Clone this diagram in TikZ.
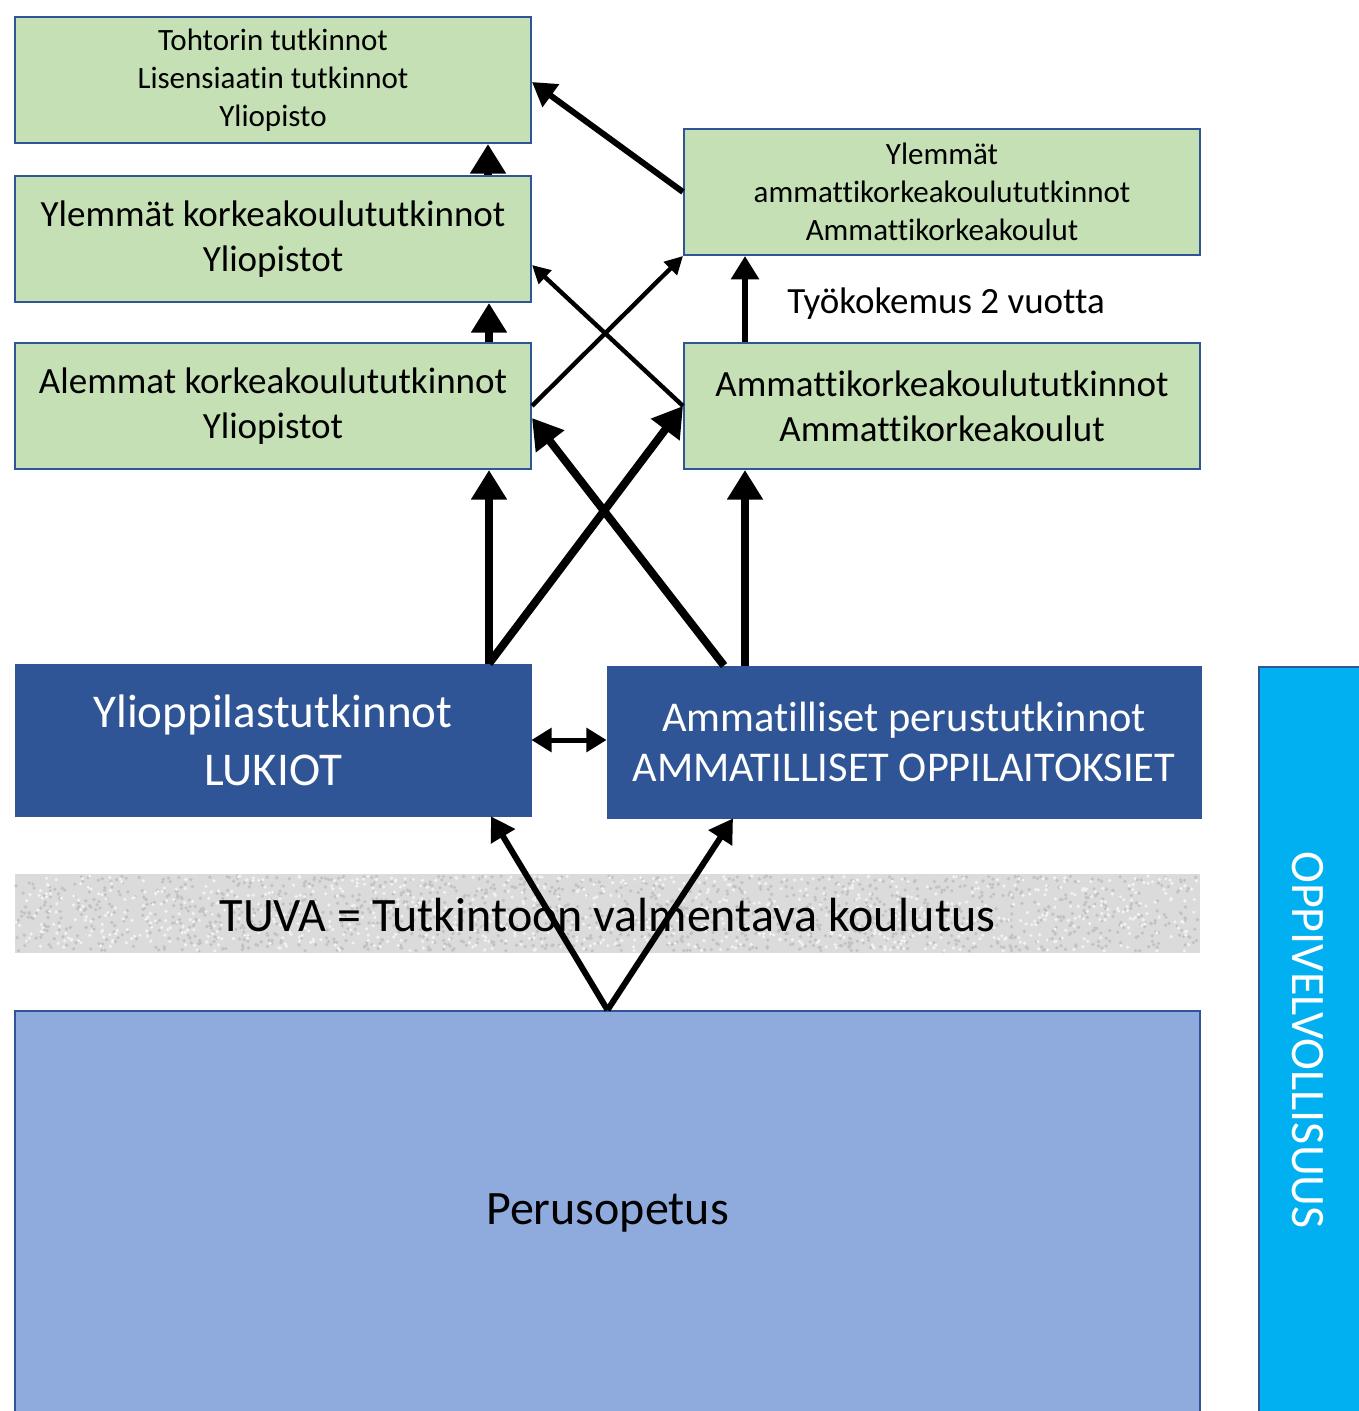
\documentclass[tikz,border=0pt]{standalone}
\usepackage{fontspec}
\setmainfont{Carlito}[Ligatures=NoCommon]
\usetikzlibrary{arrows.meta}

\definecolor{boxgreen}{HTML}{C5E0B4}
\definecolor{boxline}{HTML}{2F5597}
\definecolor{lightblue}{HTML}{8FAADC}
\definecolor{cyanbar}{HTML}{00B0F0}

\tikzset{
	degree/.style={draw=boxline, line width=1pt, fill=boxgreen, minimum width=258pt, minimum height=63pt, align=center, inner sep=0pt},
	smalltext/.style={font=\fontsize{15.5}{19}\selectfont},
	midtext/.style={font=\fontsize{18.5}{22.5}\selectfont},
	bigtext/.style={font=\fontsize{24}{29}\selectfont},
	school/.style={draw=boxline, fill=boxline, text=white, minimum height=76pt, align=center, inner sep=0pt},
	route/.style={->, line width=4pt},
	thinroute/.style={-{Triangle[length=9pt,width=9pt]}, line width=2.2pt},
}

\begin{document}
\begin{tikzpicture}[x=0.5pt,y=-0.5pt,>=Triangle]
		\useasboundingbox (0,0) rectangle (1358,1411);

		% korkeakoulut
		\node[degree,smalltext] (toht) at (273,80) {Tohtorin tutkinnot\\Lisensiaatin tutkinnot\\Yliopisto};
		\node[degree,midtext] (ylem) at (273,239) {Ylemmät korkeakoulututkinnot\\Yliopistot};
		\node[degree,midtext] (alem) at (273,406) {Alemmat korkeakoulututkinnot\\Yliopistot};
		\node[degree,smalltext] (ylamk) at (942,192) {Ylemmät\\ammattikorkeakoulututkinnot\\Ammattikorkeakoulut};
		\node[degree,midtext] (amk) at (942,406) {Ammattikorkeakoulututkinnot\\Ammattikorkeakoulut};
		\node[font=\fontsize{18.5}{22}\selectfont] (tyo) at (946,304) {Työkokemus 2 vuotta};

		% toinen aste
		\node[school,minimum width=258pt,font=\fontsize{23.5}{29}\selectfont] (yo) at (273,740) {Ylioppilastutkinnot\\LUKIOT};
		\node[school,minimum width=297pt,font=\fontsize{21.2}{25}\selectfont] (ammat) at (904,742) {Ammatilliset perustutkinnot\\AMMATILLISET OPPILAITOKSIET};

		% TUVA
		\fill[black!14] (15,874) rectangle (1200,953);
		\pgfmathsetseed{7}
		\foreach \i in {1,...,1400}
			\fill[black!24] ({16+1182*rnd},{876+75*rnd}) circle (0.9pt);
		\foreach \i in {1,...,900}
			\fill[black!5] ({16+1182*rnd},{876+75*rnd}) circle (0.9pt);
		\node[bigtext] (tuva) at (607.5,915) {TUVA = Tutkintoon valmentava koulutus};

		% perusopetus ja oppivelvollisuus
		\node[draw=boxline, line width=1pt, fill=lightblue, minimum width=592.5pt, minimum height=201pt, inner sep=0pt] (perus) at (607.5,1212) {};
		\node[bigtext] at (607.5,1213) {Perusopetus};
		\node[draw=boxline, line width=1pt, fill=cyanbar, minimum width=51pt, minimum height=373pt, inner sep=0pt] (oppi) at (1310,1039.5) {};
		\node[bigtext, text=white, rotate=-90] at (1308,1040) {OPPIVELVOLLISUUS};

		% nuolet
		\draw[route] ([xshift=108pt]alem.north) -- ([xshift=108pt]ylem.south);
		\draw[route] ([xshift=107.5pt]ylem.north) -- ([xshift=107.5pt]toht.south);
		\draw[->, line width=3pt] (ylamk.west) -- ([yshift=-1pt]toht.east);
		\draw[thinroute] (alem.east) -- (ylamk.south west);
		\draw[thinroute] (amk.west) -- ([yshift=-13pt]ylem.east);
		\draw[->, line width=3pt] ([xshift=-98.5pt]amk.north) -- ([xshift=-98.5pt]ylamk.south);

		\draw[route] ([xshift=108pt]yo.north) -- ([xshift=108pt]alem.south);
		\draw[route] ([xshift=108pt]yo.north) -- (amk.west);
		\draw[route] ([xshift=-90pt]ammat.north) -- ([yshift=-6pt]alem.east);
		\draw[route] ([xshift=-79.5pt]ammat.north) -- ([xshift=-98.5pt]amk.south);
		\draw[<->, line width=2.5pt] (yo.east) -- (yo.east -| ammat.west);

		\draw[->, line width=3pt] (perus.north) -- ([xshift=109pt]yo.south);
		\draw[->, line width=3pt] (perus.north) -- ([xshift=-85.5pt]ammat.south);
	\end{tikzpicture}
\end{document}
